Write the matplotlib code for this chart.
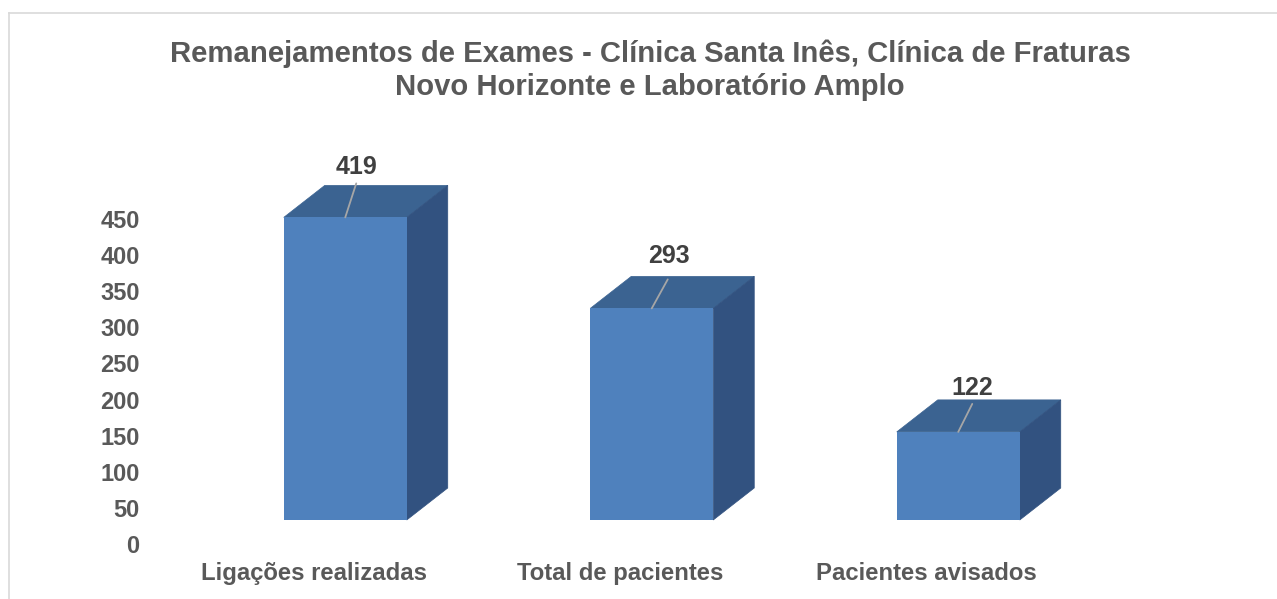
import matplotlib
matplotlib.use("Agg")
import matplotlib.pyplot as plt
from matplotlib.patches import Polygon
from matplotlib.lines import Line2D

categories = ["Ligações realizadas", "Total de pacientes", "Pacientes avisados"]
values = [419, 293, 122]
y_ticks = [0, 50, 100, 150, 200, 250, 300, 350, 400, 450]
title = "Remanejamentos de Exames - Clínica Santa Inês, Clínica de Fraturas\nNovo Horizonte e Laboratório Amplo"

W, H = 1277, 599
FRONT, TOP, SIDE = "#4F81BD", "#3B6391", "#325280"
LEADER = "#A6A6A6"
GREY, DARK = "#595959", "#404040"
plt.rcParams["font.family"] = ["Liberation Sans", "DejaVu Sans"]

fig = plt.figure(figsize=(W / 100, H / 100), dpi=100, facecolor="white")


def rect(l, top, r, bottom):
    return [l / W, 1 - bottom / H, (r - l) / W, (bottom - top) / H]


# Frame axes carrying the ticks, bar axes shifted by the oblique projection
frame = fig.add_axes(rect(160.5, 219, 1080, 544))
bars = fig.add_axes(rect(192, 195, 1111.5, 520))
for ax in (frame, bars):
    ax.set_xlim(-0.5, 2.5)
    ax.set_ylim(0, 450)
    ax.patch.set_alpha(0)
    for s in ax.spines.values():
        s.set_visible(False)

frame.set_yticks(y_ticks)
frame.set_xticks(range(len(categories)), categories)
frame.tick_params(length=0, labelcolor=GREY, labelsize=17)
frame.tick_params(axis="y", pad=15)
frame.tick_params(axis="x", labelsize=17.2, pad=13)
for lab in frame.get_xticklabels() + frame.get_yticklabels():
    lab.set_fontweight("bold")

bars.set_xticks([])
bars.set_yticks([])
bar_w = 123 / 306.5
dx, dy = 41 / 306.5, 32 / (325 / 450)
rects = bars.bar(range(len(values)), values, width=bar_w, color=FRONT, zorder=3, clip_on=False)
for i, v in enumerate(values):
    l, r = i - bar_w / 2, i + bar_w / 2
    bars.add_patch(Polygon([(l, v), (r, v), (r + dx, v + dy), (l + dx, v + dy)],
                           closed=True, fc=TOP, ec=TOP, lw=0.5, clip_on=False, zorder=2))
    bars.add_patch(Polygon([(r, 0), (r + dx, dy), (r + dx, v + dy), (r, v)],
                           closed=True, fc=SIDE, ec=SIDE, lw=0.5, clip_on=False, zorder=2))

# leader tip and label offsets from each bar's top-centre, in pixels
leader_off = [(11, 34), (16, 29), (14, 28)]
label_off = [(11.5, 50), (17, 52), (14, 44)]
for i, v in enumerate(values):
    bars.annotate("", xy=(i, v), xytext=leader_off[i], textcoords="offset pixels",
                  arrowprops=dict(arrowstyle="-", color=LEADER, lw=1.3, shrinkA=0, shrinkB=0),
                  annotation_clip=False, zorder=5)
    bars.annotate(str(v), xy=(i, v), xytext=label_off[i], textcoords="offset pixels",
                  ha="center", va="center", color=DARK, fontsize=18, fontweight="bold",
                  annotation_clip=False, zorder=6)

fig.text(650 / W, 1 - 70.5 / H, title, ha="center", va="center", color=GREY,
         fontsize=21.05, fontweight="bold", linespacing=1.22)

# chart-area border: top and left edges only
fig.add_artist(Line2D([9 / W, 9 / W], [0, 1 - 12.5 / H], color="#D9D9D9", lw=1.2))
fig.add_artist(Line2D([9 / W, 1], [1 - 12.5 / H, 1 - 12.5 / H], color="#D9D9D9", lw=1.2))

fig.savefig("out.png", dpi=100)
